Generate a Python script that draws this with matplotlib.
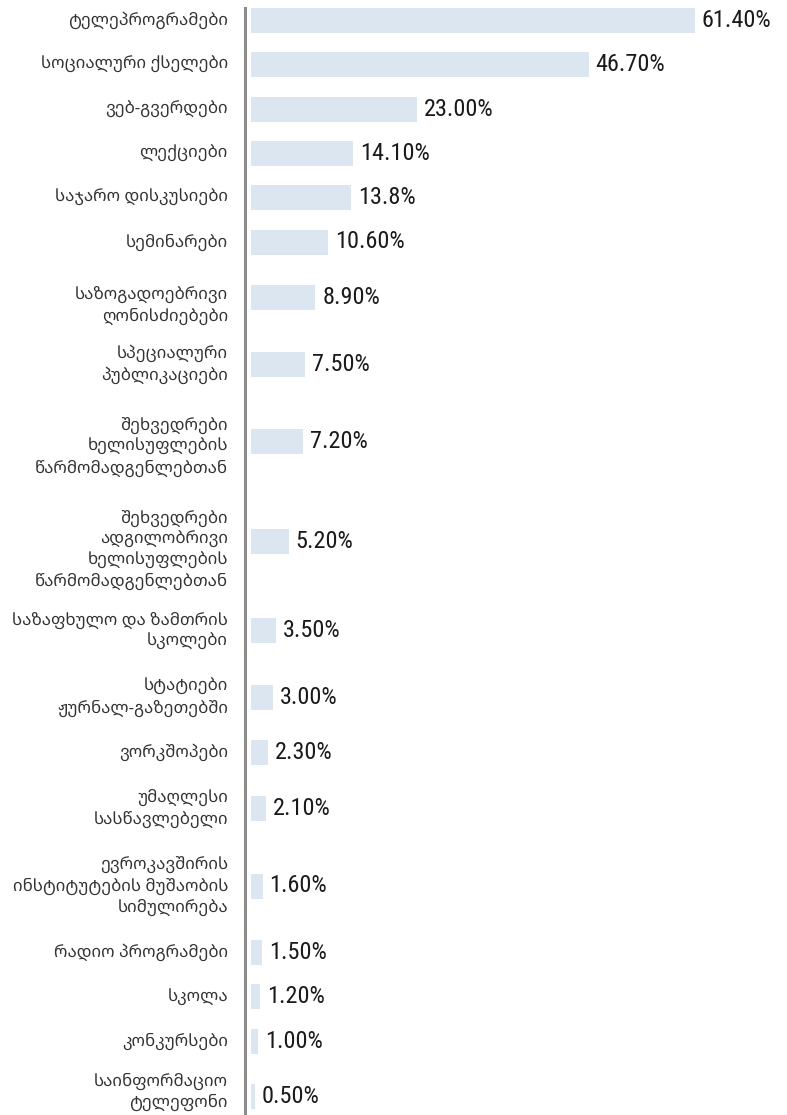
import matplotlib
matplotlib.use("Agg")
import matplotlib.pyplot as plt
from matplotlib import transforms

# survey answers, top to bottom
labels = [
    "ტელეპროგრამები",
    "სოციალური ქსელები",
    "ვებ-გვერდები",
    "ლექციები",
    "საჯარო დისკუსიები",
    "სემინარები",
    "საზოგადოებრივი\nღონისძიებები",
    "სპეციალური\nპუბლიკაციები",
    "შეხვედრები\nხელისუფლების\nწარმომადგენლებთან",
    "შეხვედრები\nადგილობრივი\nხელისუფლების\nწარმომადგენლებთან",
    "საზაფხულო და ზამთრის\nსკოლები",
    "სტატიები\nჟურნალ-გაზეთებში",
    "ვორკშოპები",
    "უმაღლესი\nსასწავლებელი",
    "ევროკავშირის\nინსტიტუტების მუშაობის\nსიმულირება",
    "რადიო პროგრამები",
    "სკოლა",
    "კონკურსები",
    "საინფორმაციო\nტელეფონი",
]
values = [61.4, 46.7, 23.0, 14.1, 13.8, 10.6, 8.9, 7.5, 7.2, 5.2,
          3.5, 3.0, 2.3, 2.1, 1.6, 1.5, 1.2, 1.0, 0.5]
value_labels = ["61.40%", "46.70%", "23.00%", "14.10%", "13.8%", "10.60%",
                "8.90%", "7.50%", "7.20%", "5.20%", "3.50%", "3.00%",
                "2.30%", "2.10%", "1.60%", "1.50%", "1.20%", "1.00%", "0.50%"]

W, H = 787, 1115
axis_x = 245      # pixel column of the left spine
top_px = 8        # spine starts here
bar_h = 25

# rows get taller with the number of label lines
heights = [22 + 22.3 * (lab.count("\n") + 1) for lab in labels]
centers = [0.0]
for i in range(1, len(heights)):
    centers.append(centers[-1] + (heights[i - 1] + heights[i]) / 2)

# small vertical nudges (px, down is positive) for a few category labels
label_dy = [0] * len(labels)
label_dy[6] = 8
label_dy[8] = 5
label_dy[9] = 8
label_dy[18] = -5

fig = plt.figure(figsize=(W / 100, H / 100), dpi=100)
ax = fig.add_axes([axis_x / W, 0, 1 - axis_x / W, (H - top_px) / H])

ax.barh(centers, values, height=bar_h, color="#dce6f1", zorder=2)

px_per = 7.23
ax.set_xlim(-6 / px_per, -6 / px_per + (W - axis_x) / px_per)
ax.set_ylim(-bar_h / 2 + (H - top_px), -bar_h / 2)

for c, v, t in zip(centers, values, value_labels):
    ax.text(v + 7 / px_per, c, t, fontsize=17.5,
            family=["Roboto Condensed", "Liberation Sans"],
            color="#1a1a1a", va="center", ha="left")

# category names, right-aligned left of the spine
blend = transforms.blended_transform_factory(ax.transAxes, ax.transData)
for c, lab, dy in zip(centers, labels, label_dy):
    tr = blend + transforms.ScaledTranslation(-17 / 100, -dy / 100,
                                              fig.dpi_scale_trans)
    ax.text(0, c, lab, transform=tr, fontsize=12.1,
            family=["Noto Sans Georgian", "DejaVu Sans"],
            color="#333333", linespacing=1.32,
            ha="right", va="center", multialignment="right")

ax.set_yticks([])
ax.set_xticks([])

for s in ["top", "right", "bottom"]:
    ax.spines[s].set_visible(False)
ax.spines["left"].set_color("#8c8c8c")
ax.spines["left"].set_linewidth(2.2)

fig.savefig("out.png", dpi=100)
